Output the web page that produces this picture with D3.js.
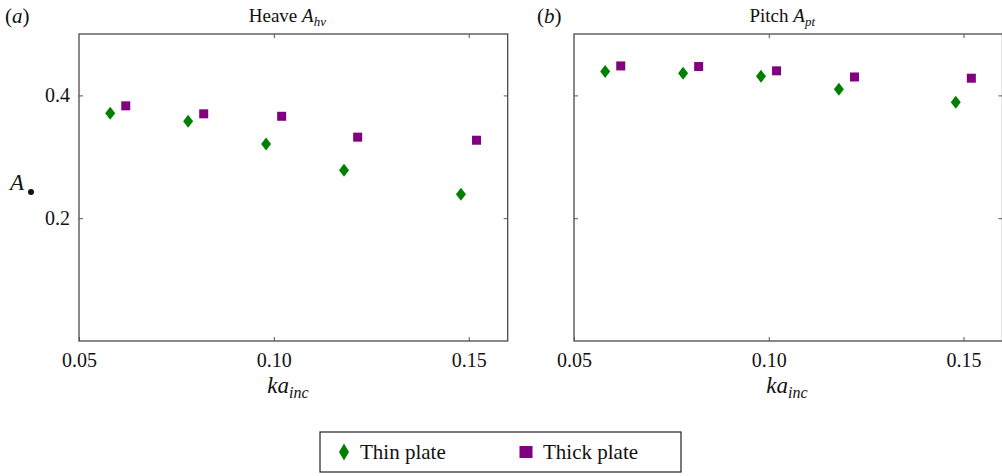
<!DOCTYPE html>
<html><head><meta charset="utf-8">
<script src="https://cdn.jsdelivr.net/npm/d3@7"></script>
<style>
body{margin:0;background:#fff;}
svg{display:block;}
svg text{font-family:"Liberation Serif","Times New Roman",serif !important;}
</style></head>
<body>
<svg id="chart" width="1002" height="476"></svg>
<script>
// ---- data ----
const kaThin = [0.058, 0.078, 0.098, 0.118, 0.148];
const kaThick = [0.062, 0.082, 0.102, 0.1215, 0.152];
const heaveThin = [0.371, 0.358, 0.321, 0.278, 0.239];
const heaveThick = [0.383, 0.370, 0.366, 0.332, 0.327];
const kaThinPitch = [0.058, 0.078, 0.098, 0.118, 0.148];
const kaThickPitch = [0.062, 0.082, 0.102, 0.122, 0.152];
const pitchThin = [0.439, 0.436, 0.431, 0.410, 0.389];
const pitchThick = [0.448, 0.447, 0.440, 0.430, 0.428];
const xTicks = [0.05, 0.10, 0.15];
const yTicks = [0.2, 0.4];
const seriesNames = ["Thin plate", "Thick plate"];
const colors = {thin: "#008000", thick: "#800080"};

const svg = d3.select("#chart");
const plotTop = 34, plotBottom = 341;

const panels = [
  {left: 79, width: 428.7, label: "a", title: "Heave ", sub: "hv",
   thinX: kaThin, thinY: heaveThin, thickX: kaThick, thickY: heaveThick, yLabels: true, xlabC: 288},
  {left: 574, width: 428.5, label: "b", title: "Pitch ", sub: "pt",
   thinX: kaThinPitch, thinY: pitchThin, thickX: kaThickPitch, thickY: pitchThick, yLabels: false, xlabC: 787}
];

const diamond = "M0,-6.5L5,0L0,6.5L-5,0Z";

panels.forEach(p => {
  const x = d3.scaleLinear().domain([0.05, 0.16]).range([p.left, p.left + p.width]);
  const y = d3.scaleLinear().domain([0, 0.5]).range([plotBottom, plotTop]);
  const g = svg.append("g");

  // frame
  g.append("rect").attr("x", p.left).attr("y", plotTop)
    .attr("width", x(0.16) - p.left).attr("height", plotBottom - plotTop)
    .attr("fill", "none").attr("stroke", "#4a4a4a").attr("stroke-width", 1.3);

  // bottom axis with inward ticks
  const xb = g.append("g").attr("transform", `translate(0,${plotBottom})`)
    .call(d3.axisBottom(x).tickValues(xTicks).tickSize(-4).tickPadding(10).tickFormat(d3.format(".2f")));
  xb.select(".domain").remove();
  xb.selectAll("line").attr("stroke", "#555");
  xb.selectAll("text").attr("font-size", 20).attr("fill", "#111").attr("dy", "0.8em");
  // top ticks
  const xt = g.append("g").attr("transform", `translate(0,${plotTop})`)
    .call(d3.axisTop(x).tickValues(xTicks.filter(d => d > 0.05)).tickSize(-4).tickFormat(""));
  xt.select(".domain").remove();
  xt.selectAll("line").attr("stroke", "#555");

  // left axis
  const yl = g.append("g").attr("transform", `translate(${p.left},0)`)
    .call(d3.axisLeft(y).tickValues(yTicks).tickSize(-4).tickPadding(9)
      .tickFormat(p.yLabels ? d3.format(".1f") : ""));
  yl.select(".domain").remove();
  yl.selectAll("line").attr("stroke", "#555");
  yl.selectAll("text").attr("font-size", 20).attr("fill", "#111");
  // right axis
  const yr = g.append("g").attr("transform", `translate(${x(0.16)},0)`)
    .call(d3.axisRight(y).tickValues(yTicks).tickSize(-4).tickFormat(""));
  yr.select(".domain").remove();
  yr.selectAll("line").attr("stroke", "#555");

  // points
  g.selectAll(".thin").data(p.thinX.map((d, i) => [d, p.thinY[i]])).enter()
    .append("path").attr("d", diamond).attr("fill", colors.thin)
    .attr("transform", d => `translate(${x(d[0])},${y(d[1])})`);
  g.selectAll(".thick").data(p.thickX.map((d, i) => [d, p.thickY[i]])).enter()
    .append("rect").attr("width", 9).attr("height", 9).attr("fill", colors.thick)
    .attr("x", d => x(d[0]) - 4.5).attr("y", d => y(d[1]) - 4.5);

  // title
  const t = g.append("text").attr("x", (p.left + x(0.16)) / 2 - 6).attr("y", 22)
    .attr("text-anchor", "middle").attr("font-size", 19).attr("fill", "#111");
  t.append("tspan").text(p.title);
  t.append("tspan").attr("font-style", "italic").text("A");
  t.append("tspan").attr("font-style", "italic").attr("font-size", 13).attr("dy", 4).text(p.sub);

  // panel label
  const lab = g.append("text").attr("x", p.label === "a" ? 5 : 537).attr("y", 23)
    .attr("font-size", 21).attr("fill", "#111");
  lab.append("tspan").text("(");
  lab.append("tspan").attr("font-style", "italic").text(p.label);
  lab.append("tspan").text(")");

  // x label
  const xl = g.append("text").attr("x", p.xlabC).attr("y", 393).attr("text-anchor", "middle")
    .attr("font-size", 23).attr("font-style", "italic").attr("fill", "#111");
  xl.append("tspan").text("ka");
  xl.append("tspan").attr("font-size", 16).attr("dy", 5).text("inc");
});

// y label A•
const ya = svg.append("text").attr("x", 10).attr("y", 190).attr("font-size", 23).attr("fill", "#111");
ya.append("tspan").attr("font-style", "italic").text("A");
svg.append("circle").attr("cx", 31).attr("cy", 192).attr("r", 3).attr("fill", "#111");

// legend
const lg = svg.append("g");
lg.append("rect").attr("x", 320).attr("y", 432).attr("width", 361).attr("height", 40)
  .attr("fill", "#fff").attr("stroke", "#222").attr("stroke-width", 1.2);
lg.append("path").attr("d", "M0,-8.5L5,0L0,8.5L-5,0Z").attr("fill", colors.thin)
  .attr("transform", "translate(344,452)");
lg.append("text").attr("x", 360).attr("y", 459).attr("font-size", 21).attr("fill", "#111").text(seriesNames[0]);
lg.append("rect").attr("x", 519.5).attr("y", 446).attr("width", 13).attr("height", 12).attr("fill", colors.thick);
lg.append("text").attr("x", 543).attr("y", 459).attr("font-size", 21).attr("fill", "#111").text(seriesNames[1]);
</script>
</body></html>
